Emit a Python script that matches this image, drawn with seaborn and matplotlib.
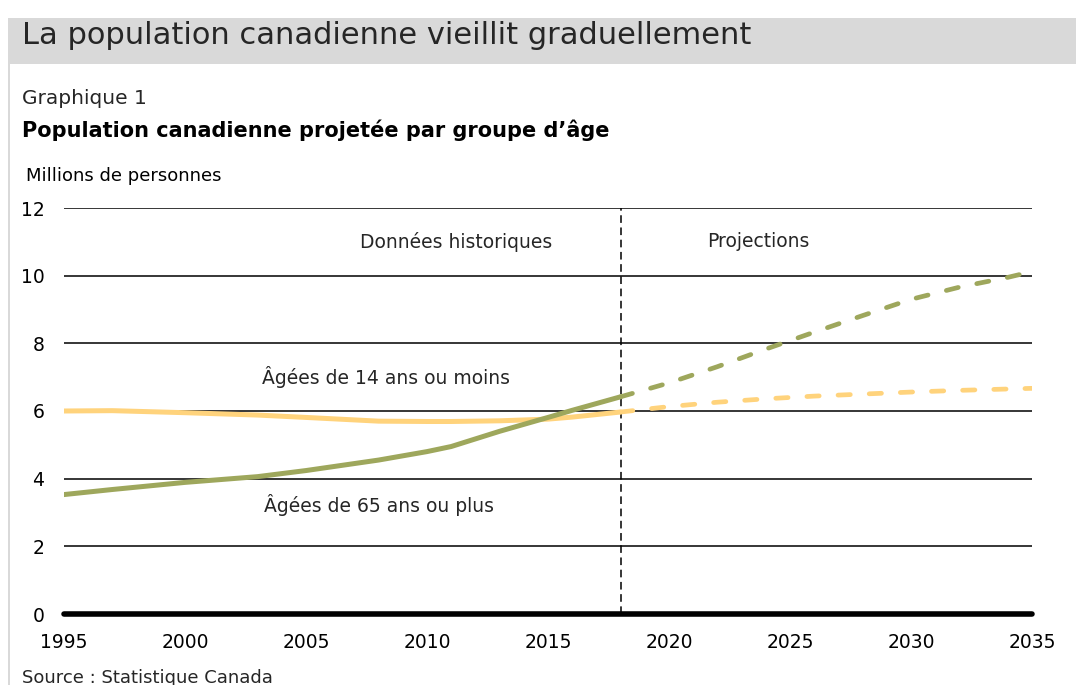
"""Population canadienne projetée par groupe d'âge."""

import matplotlib

matplotlib.use("Agg")

import matplotlib.pyplot as plt
import pandas as pd
import seaborn as sns
from matplotlib.patches import Rectangle

sns.set_style("white")
plt.rcParams["font.family"] = ["DejaVu Sans"]

# Données historiques (millions de personnes)
hist_years = [1995, 1997, 2000, 2003, 2005, 2008, 2010, 2011, 2013, 2015, 2016, 2018]
hist_65_plus = [3.53, 3.68, 3.89, 4.06, 4.24, 4.55, 4.80, 4.95, 5.40, 5.81, 6.02, 6.42]
hist_0_14 = [6.00, 6.01, 5.95, 5.88, 5.81, 5.70, 5.69, 5.69, 5.71, 5.76, 5.82, 5.97]

# Projections
proj_years = [2018, 2020, 2022, 2024, 2026, 2028, 2030, 2032, 2034, 2035]
proj_65_plus = [6.42, 6.83, 7.31, 7.83, 8.33, 8.82, 9.30, 9.66, 9.95, 10.12]
proj_0_14 = [5.97, 6.13, 6.26, 6.36, 6.44, 6.50, 6.56, 6.61, 6.65, 6.67]

x_ticks = [1995, 2000, 2005, 2010, 2015, 2020, 2025, 2030, 2035]
y_ticks = [0, 2, 4, 6, 8, 10, 12]

GREEN = "#9ea75c"
YELLOW = "#ffd37c"

hist_df = pd.DataFrame({"year": hist_years, "old": hist_65_plus, "young": hist_0_14})
proj_df = pd.DataFrame({"year": proj_years, "old": proj_65_plus, "young": proj_0_14})

fig = plt.figure(figsize=(10.76, 6.85), dpi=100)

# bandeau du titre et filet gauche
fig.patches.append(Rectangle((8 / 1076, 1 - 64 / 685), 1, 46 / 685, transform=fig.transFigure,
                             facecolor="#d9d9d9", edgecolor="none", zorder=0))
fig.patches.append(Rectangle((8 / 1076, 0), 2 / 1076, 1 - 64 / 685, transform=fig.transFigure,
                             facecolor="#d9d9d9", edgecolor="none", zorder=0))
fig.text(22 / 1076, 1 - 36 / 685, "La population canadienne vieillit graduellement",
         fontsize=22, color="#262626", va="center")
fig.text(22 / 1076, 1 - 98 / 685, "Graphique 1", fontsize=14.5,
         color="#262626", va="center")
fig.text(22 / 1076, 1 - 130 / 685, "Population canadienne projetée par groupe d’âge",
         fontsize=15, fontweight="bold", color="black", va="center")
fig.text(26 / 1076, 1 - 176 / 685, "Millions de personnes", fontsize=13,
         color="black", va="center")
fig.text(22 / 1076, 1 - 678 / 685, "Source : Statistique Canada", fontsize=13,
         color="#262626", va="center")

ax = fig.add_axes([64 / 1076, 1 - 614 / 685, 968 / 1076, 406 / 685])

for yv in y_ticks[1:]:
    ax.axhline(yv, color="black", lw=1.1, zorder=1)
ax.axhline(0, color="black", lw=4, zorder=3, clip_on=False)
ax.axvline(2018, color="black", lw=1.1, ls=(0, (5, 3)), zorder=2)

sns.lineplot(data=hist_df, x="year", y="young", color=YELLOW, lw=3.6, ax=ax, zorder=4)
sns.lineplot(data=hist_df, x="year", y="old", color=GREEN, lw=3.6, ax=ax, zorder=5)
for col in ["young", "old"]:
    sns.lineplot(data=proj_df, x="year", y=col, color=YELLOW if col == "young" else GREEN,
                 lw=3.4, ax=ax, zorder=4 if col == "young" else 5)
    line = ax.lines[-1]
    line.set_dashes((2.6, 4.0))
    line.set_dash_capstyle("round")

ax.set_xlim(1995, 2035)
ax.set_ylim(0, 12)
ax.set_xticks(x_ticks)
ax.set_yticks(y_ticks)
ax.tick_params(axis="both", labelsize=13.5, length=0, colors="black")
ax.tick_params(axis="x", pad=14)
ax.tick_params(axis="y", pad=14)
ax.set_xlabel("")
ax.set_ylabel("")
for spine in ax.spines.values():
    spine.set_visible(False)

ax.text(2011.2, 11.0, "Données historiques", fontsize=13.5, ha="center", va="center")
ax.text(2023.7, 11.0, "Projections", fontsize=13.5, ha="center", va="center")
ax.text(2008.3, 7.0, "Âgées de 14 ans ou moins", fontsize=13.5, ha="center", va="center")
ax.text(2008.0, 3.22, "Âgées de 65 ans ou plus", fontsize=13.5, ha="center", va="center")

fig.savefig("out.png", dpi=100)
